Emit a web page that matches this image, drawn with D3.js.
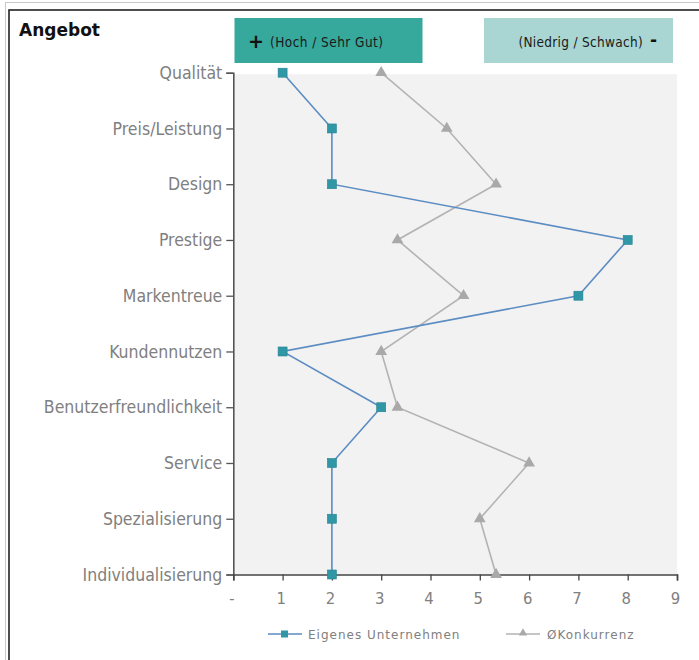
<!DOCTYPE html>
<html>
<head>
<meta charset="utf-8">
<script src="https://cdn.jsdelivr.net/npm/d3@7"></script>
<style>
  html, body { margin: 0; padding: 0; background: #fff; }
  svg { display: block; }
</style>
</head>
<body>
<svg id="chart" width="699" height="660"></svg>
<script>
// Kriterien des Angebots (von oben nach unten)
const categories = [
  "Qualität", "Preis/Leistung", "Design", "Prestige", "Markentreue",
  "Kundennutzen", "Benutzerfreundlichkeit", "Service", "Spezialisierung",
  "Individualisierung"
];
// Bewertung des eigenen Unternehmens
const eigenesValues = [1, 2, 2, 8, 7, 1, 3, 2, 2, 2];
// Durchschnitt der Konkurrenz
const konkurrenzValues = [3, 4.33, 5.33, 3.33, 4.67, 3, 3.33, 6, 5, 5.33];
// Beschriftung der Werteachse
const tickValues = [0, 1, 2, 3, 4, 5, 6, 7, 8, 9];
const tickLabels = ["-", "1", "2", "3", "4", "5", "6", "7", "8", "9"];
const seriesNames = ["Eigenes Unternehmen", "ØKonkurrenz"];

const svg = d3.select("#chart");
const font = "'DejaVu Sans', Verdana, sans-serif";
const narrow = "'DejaVu Sans Condensed', 'DejaVu Sans', sans-serif";

// Rahmen
svg.append("rect").attr("x", 5.5).attr("y", 2.5).attr("width", 720).attr("height", 700)
  .attr("fill", "none").attr("stroke", "#c8c8c8").attr("stroke-width", 1);
svg.append("rect").attr("x", 9).attr("y", 10).attr("width", 720).attr("height", 700)
  .attr("fill", "none").attr("stroke", "#222").attr("stroke-width", 1.6);

// Titel
svg.append("text").attr("x", 19).attr("y", 36)
  .attr("font-family", font).attr("font-weight", "bold").attr("font-size", 17)
  .attr("fill", "#111").text("Angebot");

// Kopfzeilen-Kästen
svg.append("rect").attr("x", 234.5).attr("y", 18).attr("width", 188).attr("height", 45)
  .attr("fill", "#36a89c");
svg.append("text").attr("x", 248).attr("y", 48)
  .attr("font-family", font).attr("font-weight", "bold").attr("font-size", 19)
  .attr("fill", "#111").text("+");
svg.append("text").attr("x", 270).attr("y", 47)
  .attr("font-family", narrow).attr("font-stretch", "condensed")
  .attr("font-size", 13.5).attr("letter-spacing", 0.45).attr("fill", "#1a1a1a")
  .text("(Hoch / Sehr Gut)");

svg.append("rect").attr("x", 484).attr("y", 18).attr("width", 189).attr("height", 45)
  .attr("fill", "#a9d6d2");
svg.append("text").attr("x", 643).attr("y", 47).attr("text-anchor", "end")
  .attr("font-family", narrow).attr("font-stretch", "condensed")
  .attr("font-size", 13.5).attr("letter-spacing", 0.3).attr("fill", "#1a1a1a")
  .text("(Niedrig / Schwach)");
svg.append("text").attr("x", 650).attr("y", 46)
  .attr("font-family", font).attr("font-weight", "bold").attr("font-size", 17)
  .attr("fill", "#111").text("-");

// Skalen
const x = d3.scaleLinear().domain([0, 9]).range([233.3, 677]);
const y = d3.scalePoint().domain(categories).range([72.7, 574.5]);

// Plotfläche
svg.append("rect")
  .attr("x", x(0)).attr("y", y(categories[0]) + 1.5)
  .attr("width", x(9) - x(0)).attr("height", y(categories[categories.length - 1]) - y(categories[0]) - 1.5)
  .attr("fill", "#f2f2f2");

// Achsen
const yAxis = svg.append("g").attr("transform", `translate(${x(0)},0)`)
  .call(d3.axisLeft(y).tickSize(7).tickPadding(4));
yAxis.select(".domain").attr("stroke", "#555").attr("stroke-width", 1.6);
yAxis.selectAll(".tick line").attr("stroke", "#555").attr("stroke-width", 1.3);
yAxis.selectAll(".tick text").attr("font-family", narrow).attr("font-stretch", "condensed")
  .attr("font-size", 17.5).attr("fill", "#808080");

const xAxis = svg.append("g").attr("transform", `translate(0,${y(categories[categories.length - 1])})`)
  .call(d3.axisBottom(x).tickValues(tickValues).tickSize(6).tickPadding(12)
    .tickFormat((d, i) => tickLabels[i]));
xAxis.select(".domain").attr("stroke", "#444").attr("stroke-width", 1.6);
xAxis.selectAll(".tick line").attr("stroke", "#444").attr("stroke-width", 1.3);
xAxis.selectAll(".tick text").attr("font-family", narrow).attr("font-stretch", "condensed")
  .attr("font-size", 16.5).attr("fill", "#808080").attr("dx", -2);

// Linien
const line = d3.line().x(d => x(d.v)).y(d => y(d.c));
const eigenes = categories.map((c, i) => ({ c, v: eigenesValues[i] }));
const konkurrenz = categories.map((c, i) => ({ c, v: konkurrenzValues[i] }));

const blueLine = "#5b8cc2", blueMark = "#2f97a6", grayLine = "#b3b3b3", grayMark = "#a9a9a9";

svg.append("path").datum(konkurrenz).attr("d", line)
  .attr("fill", "none").attr("stroke", grayLine).attr("stroke-width", 1.6);
svg.append("path").datum(eigenes).attr("d", line)
  .attr("fill", "none").attr("stroke", blueLine).attr("stroke-width", 1.6);

const tri = d3.symbol().type(d3.symbolTriangle).size(60);
svg.append("g").selectAll("path").data(konkurrenz).join("path")
  .attr("transform", d => `translate(${x(d.v)},${y(d.c)})`)
  .attr("d", tri).attr("fill", grayMark);

svg.append("g").selectAll("rect").data(eigenes).join("rect")
  .attr("x", d => x(d.v) - 4.5).attr("y", d => y(d.c) - 4.5)
  .attr("width", 9).attr("height", 9)
  .attr("fill", blueMark).attr("stroke", "#2a8393").attr("stroke-width", 0.6);

// Legende
const lg = svg.append("g");
lg.append("line").attr("x1", 268).attr("x2", 302).attr("y1", 634).attr("y2", 634)
  .attr("stroke", blueLine).attr("stroke-width", 1.6);
lg.append("rect").attr("x", 281).attr("y", 630.5).attr("width", 7).attr("height", 7)
  .attr("fill", blueMark);
lg.append("text").attr("x", 308).attr("y", 638.5)
  .attr("font-family", font).attr("font-size", 12).attr("letter-spacing", 1)
  .attr("fill", "#808080").text(seriesNames[0]);

lg.append("line").attr("x1", 506).attr("x2", 540).attr("y1", 634).attr("y2", 634)
  .attr("stroke", grayLine).attr("stroke-width", 1.6);
lg.append("path").attr("transform", "translate(523,633)")
  .attr("d", d3.symbol().type(d3.symbolTriangle).size(30)).attr("fill", grayMark);
lg.append("text").attr("x", 547).attr("y", 638.5)
  .attr("font-family", font).attr("font-size", 12).attr("letter-spacing", 1)
  .attr("fill", "#808080").text(seriesNames[1]);
</script>
</body>
</html>
